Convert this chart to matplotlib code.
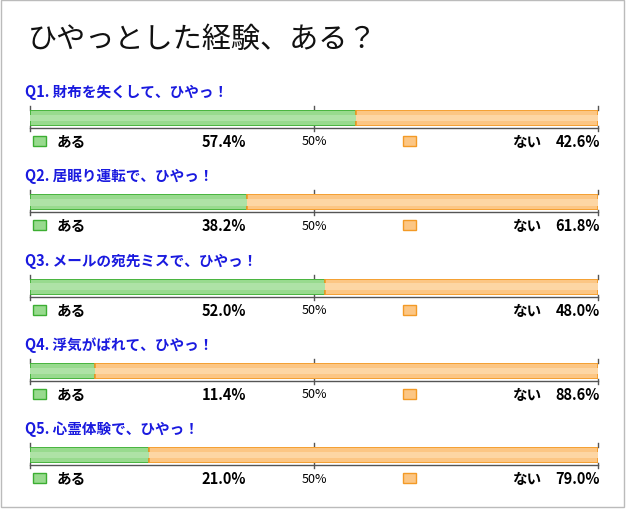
import matplotlib
matplotlib.use("Agg")
import matplotlib.pyplot as plt
from matplotlib.patches import Rectangle

plt.rcParams["font.family"] = "Noto Sans CJK JP"

questions = ["Q1. 財布を失くして、ひやっ！", "Q2. 居眠り運転で、ひやっ！",
             "Q3. メールの宛先ミスで、ひやっ！", "Q4. 浮気がばれて、ひやっ！",
             "Q5. 心霊体験で、ひやっ！"]
yes_pct = [57.4, 38.2, 52.0, 11.4, 21.0]
no_pct = [42.6, 61.8, 48.0, 88.6, 79.0]

W, H = 626, 510
fig = plt.figure(figsize=(W / 100, H / 100), dpi=100)
bg = fig.add_axes([0, 0, 1, 1])
bg.set_xlim(0, W); bg.set_ylim(H, 0); bg.axis("off")
bg.add_patch(Rectangle((1, 1), W - 3, H - 3, fill=False, ec="#bbbbbb", lw=1))
bg.text(28, 40, "ひやっとした経験、ある？", fontsize=21, va="center", ha="left", color="#111")

GREEN_E, GREEN_F, GREEN_L = "#3cae32", "#98da8e", "#aee2a6"
ORANGE_E, ORANGE_F, ORANGE_L = "#f39a26", "#fcc684", "#fdd6a4"

x0, x1 = 30, 598
for i, (q, yv, nv) in enumerate(zip(questions, yes_pct, no_pct)):
    top = 92 + i * 84.3
    bg.text(25, top, q, fontsize=10.5, weight="bold", color="#1a1adf", va="center")
    # bar axes, 0..100 scale
    by0, by1 = top + 19, top + 35
    ax = fig.add_axes([x0 / W, 1 - by1 / H, (x1 - x0) / W, (by1 - by0) / H])
    ax.set_xlim(0, 100); ax.set_ylim(0, 1); ax.axis("off")
    ax.barh(0.5, yv, left=0, height=1, color=GREEN_F, edgecolor=GREEN_E, lw=1.2)
    ax.barh(0.5, nv, left=yv, height=1, color=ORANGE_F, edgecolor=ORANGE_E, lw=1.2)
    ax.barh(0.5, yv, left=0, height=0.4, color=GREEN_L, lw=0)
    ax.barh(0.5, nv, left=yv, height=0.4, color=ORANGE_L, lw=0)
    # frame ticks
    xm = (x0 + x1) / 2
    bg.plot([x0, x1], [by1 + 2, by1 + 2], color="#555", lw=1)
    for xt in (x0, xm, x1):
        bg.plot([xt, xt], [by0 - 4, by0], color="#555", lw=1)
        bg.plot([xt, xt], [by1, by1 + 5], color="#555", lw=1)
    # legend row
    ly = top + 50
    bg.add_patch(Rectangle((33, ly - 5), 13, 10, fc=GREEN_F, ec=GREEN_E, lw=1))
    bg.text(57, ly, "ある", fontsize=10.5, weight="bold", va="center")
    bg.text(246, ly, f"{yv:.1f}%", fontsize=10.5, weight="bold", va="center", ha="right")
    bg.text(314, ly, "50%", fontsize=9, va="center", ha="center")
    bg.add_patch(Rectangle((403, ly - 5), 13, 10, fc=ORANGE_F, ec=ORANGE_E, lw=1))
    bg.text(541, ly, "ない", fontsize=10.5, weight="bold", va="center", ha="right")
    bg.text(600, ly, f"{nv:.1f}%", fontsize=10.5, weight="bold", va="center", ha="right")

fig.savefig("out.png", dpi=100, facecolor="white")
